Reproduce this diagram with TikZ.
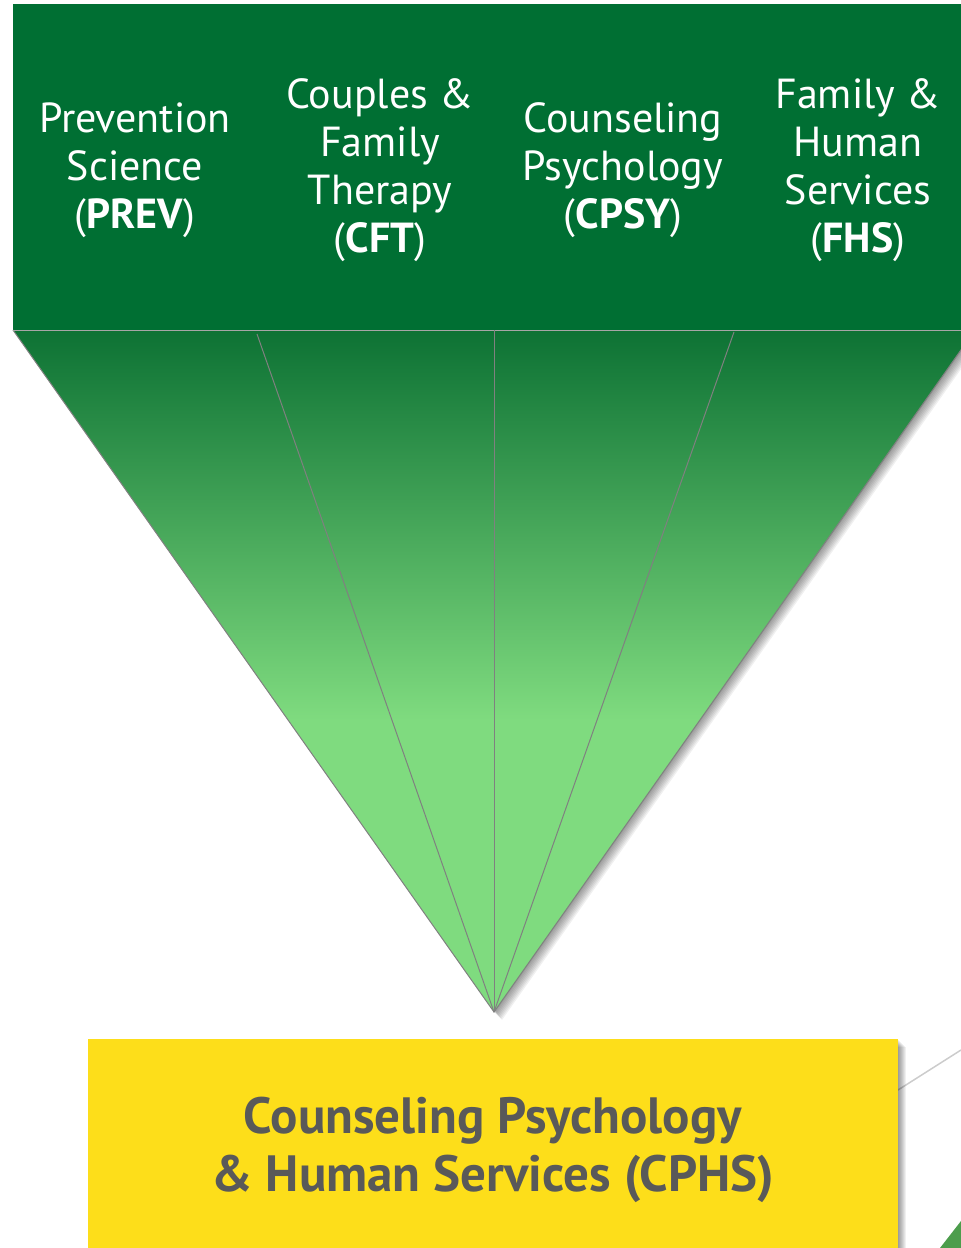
\documentclass[tikz,border=0pt]{standalone}
\usepackage{fontspec}
\setmainfont{PT Sans}
\usetikzlibrary{positioning}

\definecolor{deptgreen}{HTML}{006F33}
\definecolor{funneltop}{HTML}{0D7234}
\definecolor{funnellow}{HTML}{7FDB7F}
\definecolor{cphsyellow}{HTML}{FDDE1A}
\definecolor{cphstext}{HTML}{595959}

\tikzset{
  dept/.style={text=white, align=center, inner sep=0pt, font=\fontsize{42}{48}\selectfont},
  funnelline/.style={draw=gray, line width=1pt},
  softshadow/.style={fill=black, opacity=0.06},
  cphsbox/.style={fill=cphsyellow, text=cphstext, align=center, inner sep=0pt,
    font=\bfseries\fontsize{51}{58}\selectfont}
}

\begin{document}
\begin{tikzpicture}[x=1pt,y=-1pt]
\useasboundingbox (0,0) rectangle (961,1248);

% Header
\fill[deptgreen] (13,4) rectangle (961,329.5);

% Funnel
\coordinate (apex) at (494,1012);
\coordinate (tl) at (13,330);
\coordinate (tr) at (975,330);
\coordinate (s1) at (257,334);
\coordinate (s2) at (494,330);
\coordinate (s3) at (734,332);
\foreach \d in {1,...,8}
  \fill[softshadow, transform canvas={shift={(\d pt,-\d pt)}}] (tl) -- (tr) -- (apex) -- cycle;
\begin{scope}
  \clip (tl) -- (tr) -- (apex) -- cycle;
  \shade[top color=funneltop, bottom color=funnellow] (0,330) rectangle (975,720);
  \fill[funnellow] (0,719) rectangle (975,1013);
\end{scope}
\draw[funnelline] (tl) -- (apex) -- (tr);
\draw[funnelline, draw=gray!70] (tl) -- (tr);
\draw[funnelline] (s1) -- (apex);
\draw[funnelline] (s2) -- (apex);
\draw[funnelline] (s3) -- (apex);

% Nodes
\node[dept] (prev) at (135,170) {Prevention\\Science\\(\textbf{PREV})};
\node[dept] (cft) at (380,170) {Couples \&\\Family\\Therapy\\(\textbf{CFT})};
\node[dept] (cpsy) at (623,170) {Counseling\\Psychology\\(\textbf{CPSY})};
\node[dept] (fhs) at (858,170) {Family \&\\Human\\Services\\(\textbf{FHS})};

% Target
\draw[black!20, line width=1.5pt] (898,1090) -- (961,1050);
\fill[green!45!black!70!white] (940,1248) -- (961,1221) -- (961,1248) -- cycle;
\foreach \d in {1,...,8}
  \fill[softshadow] (88,1039+\d) rectangle (898+\d,1260);
\node[cphsbox, minimum width=810pt, minimum height=221pt] (cphs) at (493,1149.5)
  {Counseling Psychology\\\& Human Services (CPHS)};

\end{tikzpicture}
\end{document}
